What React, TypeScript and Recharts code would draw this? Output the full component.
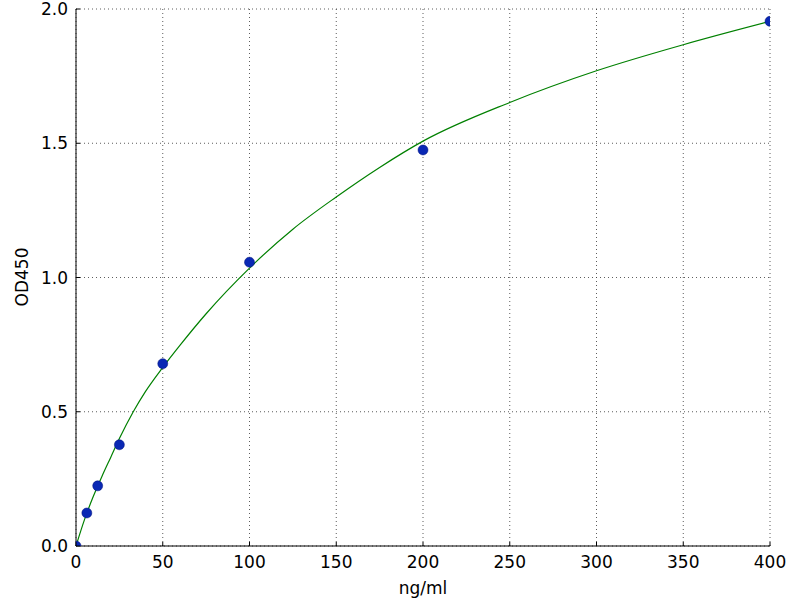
import { ComposedChart, Line, Scatter, XAxis, YAxis, CartesianGrid } from 'recharts'

// standard concentrations (ng/ml) and measured OD450
const standardConc = [0, 6.25, 12.5, 25, 50, 100, 200, 400]
const standardOd = [0.0, 0.123, 0.224, 0.377, 0.679, 1.057, 1.475, 1.954]

// fitted curve
const curveConc = [0, 5, 10, 15, 20, 25, 33, 40, 50, 60, 75, 100, 125, 150, 175, 200, 250, 300, 350, 400]
const curveOd = [0.0, 0.1, 0.185, 0.26, 0.33, 0.4, 0.5, 0.575, 0.665, 0.748, 0.865, 1.035, 1.18, 1.3, 1.41, 1.508, 1.652, 1.77, 1.867, 1.954]

const xTicks = [0, 50, 100, 150, 200, 250, 300, 350, 400]
const yTicks = [0, 0.5, 1.0, 1.5, 2.0]

const points = standardConc.map((x, i) => ({ x, y: standardOd[i] }))
const curve = curveConc.map((x, i) => ({ x, y: curveOd[i] }))

const FONT = 'DejaVu Sans'
const FS = 17

function BottomTick({ x, y, payload }: any) {
  return (
    <g>
      <line x1={x} x2={x} y1={y} y2={y - 4} stroke="#000" />
      <text x={x} y={y + 22} textAnchor="middle" fontFamily={FONT} fontSize={FS} fill="#000">
        {payload.value}
      </text>
    </g>
  )
}

function LeftTick({ x, y, payload }: any) {
  return (
    <g>
      <line x1={x} x2={x + 4} y1={y} y2={y} stroke="#000" />
      <text x={x - 8} y={y + 6} textAnchor="end" fontFamily={FONT} fontSize={FS} fill="#000">
        {Number(payload.value).toFixed(1)}
      </text>
    </g>
  )
}

function TopTick({ x, y }: any) {
  return <line x1={x} x2={x} y1={y} y2={y + 4} stroke="#000" />
}

function RightTick({ x, y }: any) {
  return <line x1={x} x2={x - 4} y1={y} y2={y} stroke="#000" />
}

function Dot({ cx, cy }: any) {
  return <circle cx={cx} cy={cy} r={5} fill="#0a28b4" stroke="#00107a" strokeWidth={0.5} />
}

export default function App() {
  return (
    <div style={{ width: 800, height: 600, background: '#fff' }}>
      <style>{'body{margin:0}'}</style>
      <ComposedChart width={800} height={600} margin={{ top: 9, right: 30, bottom: 0, left: 0 }}>
        <CartesianGrid stroke="#333" strokeWidth={0.8} strokeDasharray="1 3" />
        <XAxis
          type="number"
          dataKey="x"
          domain={[0, 400]}
          ticks={xTicks}
          allowDataOverflow
          height={54}
          tickSize={0}
          tickMargin={0}
          tick={<BottomTick />}
          axisLine={{ stroke: '#000' }}
          label={{
            content: () => (
              <text x={423} y={594} textAnchor="middle" fontFamily={FONT} fontSize={FS} fill="#000">
                ng/ml
              </text>
            ),
          }}
        />
        <XAxis
          xAxisId="top"
          orientation="top"
          type="number"
          domain={[0, 400]}
          ticks={xTicks}
          height={0}
          tickSize={0}
          tickMargin={0}
          tick={<TopTick />}
          axisLine={{ stroke: '#000' }}
        />
        <YAxis
          type="number"
          domain={[0, 2]}
          ticks={yTicks}
          allowDataOverflow
          width={76}
          tickSize={0}
          tickMargin={0}
          tick={<LeftTick />}
          axisLine={{ stroke: '#000' }}
          label={{
            content: () => (
              <text
                x={28}
                y={277}
                transform="rotate(-90 28 277)"
                textAnchor="middle"
                fontFamily={FONT}
                fontSize={FS}
                fill="#000"
              >
                OD450
              </text>
            ),
          }}
        />
        <YAxis
          yAxisId="right"
          orientation="right"
          type="number"
          domain={[0, 2]}
          ticks={yTicks}
          width={0}
          tickSize={0}
          tickMargin={0}
          tick={<RightTick />}
          axisLine={{ stroke: '#000' }}
        />
        <Line
          data={curve}
          dataKey="y"
          type="monotone"
          stroke="#008000"
          strokeWidth={1.2}
          dot={false}
          isAnimationActive={false}
        />
        <Scatter data={points} dataKey="y" shape={<Dot />} isAnimationActive={false} />
      </ComposedChart>
    </div>
  )
}
